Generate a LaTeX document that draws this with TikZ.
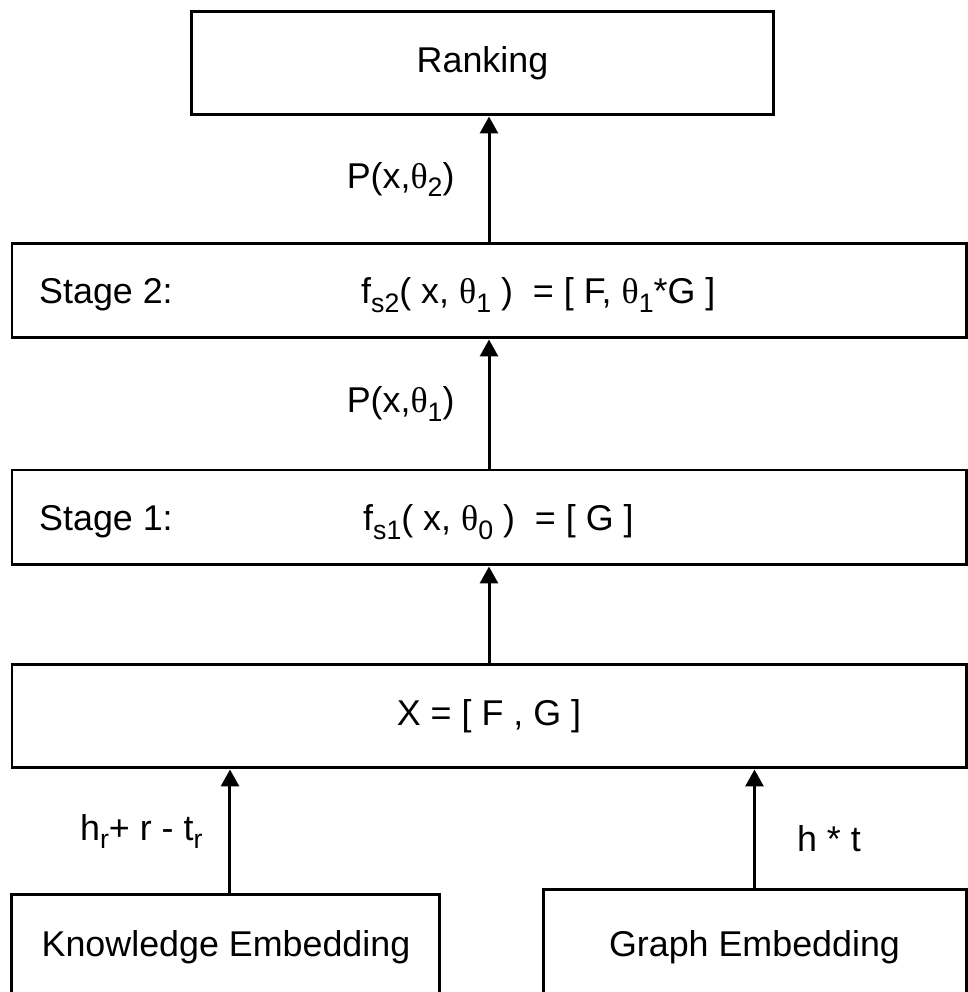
\documentclass[tikz,border=0pt]{standalone}
\usepackage{fontspec}
\setmainfont{Liberation Sans}
\newfontfamily\thetafont{Liberation Serif}
\usetikzlibrary{arrows.meta,positioning}
\newcommand{\tht}{{\thetafont θ}}
\newcommand{\lowsub}[1]{\raisebox{-0.45ex}{\fontsize{7.6}{9}\selectfont #1}}
\begin{document}
\begin{tikzpicture}[
    box/.style={draw, line width=0.03cm, inner sep=0pt, font=\fontsize{10.2}{12}\selectfont},
    boxtext/.style={inner sep=0pt, anchor=base west, font=\fontsize{10.2}{12}\selectfont},
    edgelabel/.style={inner sep=0pt, font=\fontsize{10.2}{12}\selectfont},
    link/.style={line width=0.03cm, -{Triangle[width=0.18cm,length=0.17cm]}}]
% \clip (0,0) rectangle (9.68,9.92);
\useasboundingbox (0,0) rectangle (9.680000,9.920000);
\clip (0,0) rectangle (9.680000,9.920000);

% Drawing box Ranking
\node [box, minimum width=5.81cm, minimum height=1.03cm] (rank) at (4.825000,9.285000) {Ranking};

% Drawing box Stage 2
\node [box, minimum width=9.54cm, minimum height=0.94cm] (stagetwo) at (4.890000,7.010000) {};
\node [boxtext] (stagetwolabel) at ([xshift=0.28cm,yshift=-0.13cm]stagetwo.west) {Stage 2:};
\node [boxtext] (stagetwoform) at ([xshift=3.50cm,yshift=-0.13cm]stagetwo.west)
    {f\lowsub{s2}( x, \tht\lowsub{1} )~~= [ F, \tht\lowsub{1}*G ]};

% Drawing box Stage 1
\node [box, minimum width=9.54cm, minimum height=0.95cm] (stageone) at (4.890000,4.745000) {};
\node [boxtext] (stageonelabel) at ([xshift=0.28cm,yshift=-0.13cm]stageone.west) {Stage 1:};
\node [boxtext] (stageoneform) at ([xshift=3.52cm,yshift=-0.13cm]stageone.west)
    {f\lowsub{s1}( x, \tht\lowsub{0} )~~= [ G ]};

% Drawing box X
\node [box, minimum width=9.54cm, minimum height=1.03cm] (xbox) at (4.890000,2.755000) {X = [ F , G ]};

% Drawing boxes of the embeddings
\node [box, minimum width=4.28cm, minimum height=1.05cm] (know) at (2.260000,0.445000) {Knowledge Embedding};
\node [box, minimum width=4.23cm, minimum height=1.15cm] (graph) at (7.545000,0.445000) {Graph Embedding};

% Drawing arrows
\draw [link] (stagetwo.north) -- node [edgelabel, left=0.33cm] (ptwo) {P(x,\tht\lowsub{2})} (stagetwo.north |- rank.south);
\draw [link] (stageone.north) -- node [edgelabel, left=0.33cm] (pone) {P(x,\tht\lowsub{1})} (stagetwo.south);
\draw [link] (xbox.north) -- (stageone.south);
\draw [link] ([xshift=0.04cm]know.north) -- node [edgelabel, left=0.26cm] (transe) {h\lowsub{r}+ r - t\lowsub{r}} ([xshift=0.04cm]know.north |- xbox.south);
\draw [link] (graph.north) -- node [edgelabel, right=0.41cm, yshift=-0.1cm] (hadamard) {h * t} (graph.north |- xbox.south);
\end{tikzpicture}
\end{document}
